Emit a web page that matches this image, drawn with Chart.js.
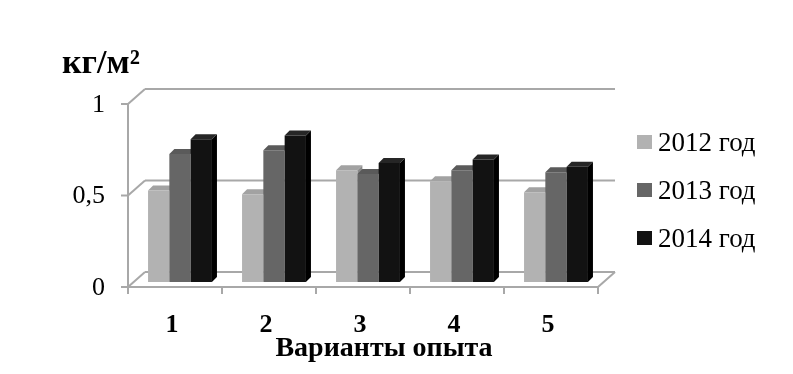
<!DOCTYPE html>
<html><head><meta charset="utf-8">
<script src="https://cdn.jsdelivr.net/npm/chart.js@4.4.1/dist/chart.umd.min.js"></script>
<style>
html,body{margin:0;padding:0;background:#fff;}
#wrap{position:relative;width:793px;height:374px;overflow:hidden;background:#fff;}
canvas{position:absolute;left:0;top:0;}
.t{position:absolute;font-family:"Liberation Serif","Times New Roman",serif;color:#000;line-height:1;white-space:nowrap;}
.box{position:absolute;width:15px;height:14px;}
</style></head><body>
<div id="wrap">
<canvas id="c" width="793" height="374"></canvas>
<div class="t" id="unit" style="left:62px;top:45px;font-size:34px;font-weight:bold;"></div>
<div class="t" id="xtitle" style="left:0;width:768px;text-align:center;top:333px;font-size:28px;font-weight:bold;"></div>
<div id="legend"></div>
</div>
<script>
// ---- data ----
const categories = ['1', '2', '3', '4', '5'];
const seriesNames = ['2012 год', '2013 год', '2014 год'];
const values2012 = [0.50, 0.48, 0.61, 0.55, 0.49];
const values2013 = [0.70, 0.72, 0.59, 0.61, 0.60];
const values2014 = [0.78, 0.80, 0.65, 0.67, 0.63];
const yTickValues = [0, 0.5, 1];
const yTickLabels = ['0', '0,5', '1'];
const xTitleText = 'Варианты опыта';
const yUnitText = 'кг/м²';

// ---- styles ----
const frontColors = ['#b2b2b2', '#666666', '#121212'];
const topColors   = ['#a2a2a2', '#5a5a5a', '#262626'];
const sideColors  = ['#8a8a8a', '#474747', '#000000'];
const seriesValues = [values2012, values2013, values2014];

document.getElementById('unit').textContent = yUnitText;
document.getElementById('xtitle').textContent = xTitleText;
const legend = document.getElementById('legend');
seriesNames.forEach((name, i) => {
  const cy = 142 + i * 48;
  const b = document.createElement('div');
  b.className = 'box';
  b.style.left = '637px'; b.style.top = (cy - 7) + 'px'; b.style.background = frontColors[i];
  legend.appendChild(b);
  const t = document.createElement('div');
  t.className = 't';
  t.style.left = '658px'; t.style.top = (cy - 13.5) + 'px'; t.style.fontSize = '27px';
  t.textContent = name;
  legend.appendChild(t);
});

const FRONT = {dx: -5, dy: 5};   // front plane offset from bar plane
const BACK = {dx: 12, dy: -10};  // back wall offset from bar plane
const DEPTH = {dx: 5, dy: -5};   // bar depth

const frame3d = {
  id: 'frame3d',
  beforeDatasetsDraw(chart) {
    const {ctx, chartArea: a, scales: {x, y}} = chart;
    ctx.save();
    ctx.strokeStyle = '#a8a8a8';
    ctx.lineWidth = 2;
    const line = (x1, y1, x2, y2) => { ctx.beginPath(); ctx.moveTo(x1, y1); ctx.lineTo(x2, y2); ctx.stroke(); };
    yTickValues.forEach(v => {
      const py = y.getPixelForValue(v);
      line(a.left + BACK.dx, py + BACK.dy, a.right + BACK.dx, py + BACK.dy);
      line(a.left + FRONT.dx, py + FRONT.dy, a.left + BACK.dx, py + BACK.dy);
      line(a.left + FRONT.dx - 7, py + FRONT.dy, a.left + FRONT.dx, py + FRONT.dy);
    });
    const y0 = y.getPixelForValue(0), y1 = y.getPixelForValue(1);
    line(a.left + FRONT.dx, y1 + FRONT.dy - 1, a.left + FRONT.dx, y0 + FRONT.dy + 1);
    line(a.left + FRONT.dx, y0 + FRONT.dy, a.right + FRONT.dx, y0 + FRONT.dy);
    line(a.right + FRONT.dx, y0 + FRONT.dy, a.right + BACK.dx, y0 + BACK.dy);
    const half = (x.getPixelForValue(1) - x.getPixelForValue(0)) / 2;
    for (let i = 0; i <= categories.length; i++) {
      const px = (i < categories.length ? x.getPixelForValue(i) - half : x.getPixelForValue(i - 1) + half) + FRONT.dx;
      line(px, y0 + FRONT.dy, px, y0 + FRONT.dy + 7);
    }
    // side and top faces of bars, left to right
    for (let j = 0; j < categories.length; j++) {
      for (let i = 0; i < seriesValues.length; i++) {
        const el = chart.getDatasetMeta(i).data[j];
        const p = el.getProps(['x', 'y', 'base', 'width'], true);
        const l = p.x - p.width / 2, r = p.x + p.width / 2;
        ctx.fillStyle = sideColors[i];
        ctx.beginPath();
        ctx.moveTo(r, p.y); ctx.lineTo(r + DEPTH.dx, p.y + DEPTH.dy);
        ctx.lineTo(r + DEPTH.dx, p.base + DEPTH.dy); ctx.lineTo(r, p.base);
        ctx.closePath(); ctx.fill();
        ctx.fillStyle = topColors[i];
        ctx.beginPath();
        ctx.moveTo(l, p.y); ctx.lineTo(l + DEPTH.dx, p.y + DEPTH.dy);
        ctx.lineTo(r + DEPTH.dx, p.y + DEPTH.dy); ctx.lineTo(r, p.y);
        ctx.closePath(); ctx.fill();
      }
    }
    ctx.restore();
  }
};

Chart.defaults.font.family = '"Liberation Serif", "Times New Roman", serif';
Chart.defaults.color = '#000';

new Chart(document.getElementById('c'), {
  type: 'bar',
  data: {
    labels: categories,
    datasets: seriesNames.map((name, i) => ({
      label: name,
      data: seriesValues[i],
      backgroundColor: frontColors[i],
      borderWidth: 0,
      categoryPercentage: 0.68,
      barPercentage: 1.0
    }))
  },
  options: {
    responsive: false,
    animation: false,
    layout: {padding: {top: 99, right: 190, bottom: 0, left: 0}},
    plugins: {legend: {display: false}, tooltip: {enabled: false}, title: {display: false}},
    scales: {
      x: {
        grid: {display: false}, border: {display: false},
        ticks: {font: {size: 26, weight: 'bold'}, padding: 20, labelOffset: -8, maxRotation: 0},
        afterFit: s => { s.height = 92; }
      },
      y: {
        min: 0, max: 1,
        grid: {display: false}, border: {display: false},
        afterBuildTicks: s => { s.ticks = yTickValues.map(v => ({value: v})); },
        ticks: {font: {size: 26}, padding: 20, labelOffset: 6,
          callback: v => yTickLabels[yTickValues.indexOf(v)]},
        afterFit: s => { s.width = 133; }
      }
    }
  },
  plugins: [frame3d]
});
</script>
</body></html>
